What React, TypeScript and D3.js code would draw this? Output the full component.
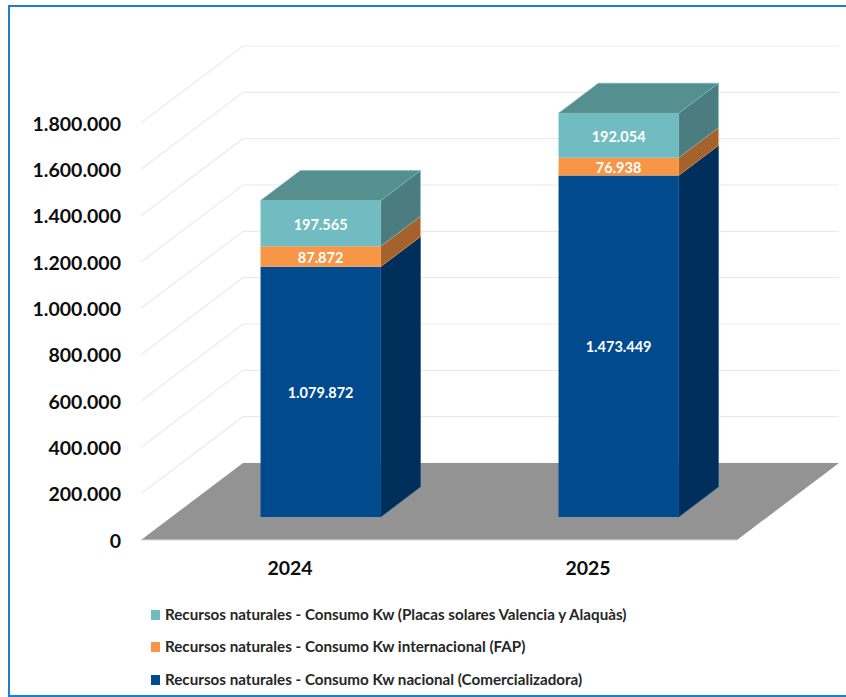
import React from "react";
import * as d3 from "d3";

const years = ["2024", "2025"];
const seriesNames = [
  "Recursos naturales - Consumo Kw nacional (Comercializadora)",
  "Recursos naturales - Consumo Kw internacional (FAP)",
  "Recursos naturales - Consumo Kw (Placas solares Valencia y Alaquàs)",
];
const nacional = [1079872, 1473449];
const internacional = [87872, 76938];
const placas = [197565, 192054];
const yTicks = [0, 200000, 400000, 600000, 800000, 1000000, 1200000, 1400000, 1600000, 1800000];

const frontColors = ["#014a8e", "#f79646", "#70bcc0"];
const sideColors = ["#012f5c", "#a5622c", "#4b7c7f"];
const topColor = "#568f8f";

const FONT = "Lato, Carlito, sans-serif";
const fmt = (v: number) => d3.format(",")(v).replace(/,/g, ".");

// Oblique projection: a point in the chart is (category x, value, depth 0..1)
const xScale = d3.scaleBand<string>().domain(years).range([141, 737]);
const yScale = d3.scaleLinear().domain([0, 1800000]).range([540, 123]);
const depthX = d3.scaleLinear().domain([0, 1]).range([0, 102]);
const depthY = d3.scaleLinear().domain([0, 1]).range([0, -77]);

const project = (x: number, v: number, z: number): [number, number] => [
  x + depthX(z),
  yScale(v) + depthY(z),
];
const poly = (pts: [number, number][]) => d3.line()(pts)! + "Z";

const BAR_WIDTH_RATIO = 0.403;
const Z_FRONT = 0.3;
const Z_BACK = 0.69;

export default function App() {
  const stacks = years.map((_, i) => {
    const vals = [nacional[i], internacional[i], placas[i]];
    let acc = 0;
    return vals.map((v) => {
      const seg = { v, y0: acc, y1: acc + v };
      acc += v;
      return seg;
    });
  });
  const bw = xScale.bandwidth() * BAR_WIDTH_RATIO;
  const legendRows = [2, 1, 0];
  const legendY = [615, 647, 680];

  return (
    <svg
      width={846}
      height={697}
      style={{ position: "absolute", left: 0, top: 0, background: "#fff" }}
      fontFamily={FONT}
    >
      <path d="M846,6 H9 V696 H846" fill="none" stroke="#1f7fcf" strokeWidth={2} />

      {/* gridlines on the left wall and back wall */}
      {yTicks.slice(1).map((t) => (
        <path
          key={t}
          d={d3.line()([project(141, t, 0), project(141, t, 1), project(737, t, 1)])!}
          fill="none"
          stroke="#ebebeb"
          strokeWidth={1.2}
        />
      ))}

      {/* floor */}
      <path
        d={poly([project(141, 0, 0), project(141, 0, 1), project(737, 0, 1), project(737, 0, 0)])}
        fill="#939393"
      />
      <path d={d3.line()([project(141, 0, 0), project(737, 0, 0)])!} stroke="#d9d9d9" strokeWidth={1} />

      {/* y axis labels */}
      {yTicks.map((t) => (
        <text
          key={t}
          x={121}
          y={yScale(t) + 1}
          dy="0.35em"
          textAnchor="end"
          fontSize={19.5}
          fontWeight={700}
          fill="#0d0d0d"
        >
          {fmt(t)}
        </text>
      ))}

      {/* stacked bars */}
      {years.map((year, i) => {
        const x0 = (xScale(year) as number) + (xScale.bandwidth() - bw) / 2 + depthX(Z_FRONT);
        const x1 = x0 + bw;
        const xb0 = x0 - depthX(Z_FRONT);
        const xb1 = x1 - depthX(Z_FRONT);
        const top = stacks[i][stacks[i].length - 1];
        return (
          <g key={year}>
            {stacks[i].map((s, k) => (
              <g key={k}>
                <path
                  d={poly([
                    project(xb1, s.y0, Z_FRONT),
                    project(xb1, s.y1, Z_FRONT),
                    project(xb1, s.y1, Z_BACK),
                    project(xb1, s.y0, Z_BACK),
                  ])}
                  fill={sideColors[k]}
                  stroke={frontColors[k]}
                  strokeWidth={0.6}
                />
                <path
                  d={poly([
                    project(xb0, s.y0, Z_FRONT),
                    project(xb0, s.y1, Z_FRONT),
                    project(xb1, s.y1, Z_FRONT),
                    project(xb1, s.y0, Z_FRONT),
                  ])}
                  fill={frontColors[k]}
                />
              </g>
            ))}
            <path
              d={poly([
                project(xb0, top.y1, Z_FRONT),
                project(xb0, top.y1, Z_BACK),
                project(xb1, top.y1, Z_BACK),
                project(xb1, top.y1, Z_FRONT),
              ])}
              fill={topColor}
              stroke={frontColors[2]}
              strokeWidth={0.6}
            />
            {stacks[i].map((s, k) => (
              <text
                key={k}
                x={(x0 + x1) / 2}
                y={(project(xb0, s.y0, Z_FRONT)[1] + project(xb0, s.y1, Z_FRONT)[1]) / 2 + 1}
                dy="0.35em"
                textAnchor="middle"
                fontSize={14.5}
                fontWeight={700}
                fill="#fff"
              >
                {fmt(s.v)}
              </text>
            ))}
            <text
              x={(xScale(year) as number) + xScale.bandwidth() / 2}
              y={568}
              dy="0.35em"
              textAnchor="middle"
              fontSize={19.5}
              fontWeight={700}
              fill="#0d0d0d"
            >
              {year}
            </text>
          </g>
        );
      })}

      {/* legend */}
      {legendRows.map((k, r) => (
        <g key={k}>
          <rect x={151} y={legendY[r] - 5} width={9} height={10} fill={frontColors[k]} />
          <text x={165} y={legendY[r]} dy="0.35em" fontSize={15.2} fontWeight={700} fill="#262626">
            {seriesNames[k]}
          </text>
        </g>
      ))}
    </svg>
  );
}
